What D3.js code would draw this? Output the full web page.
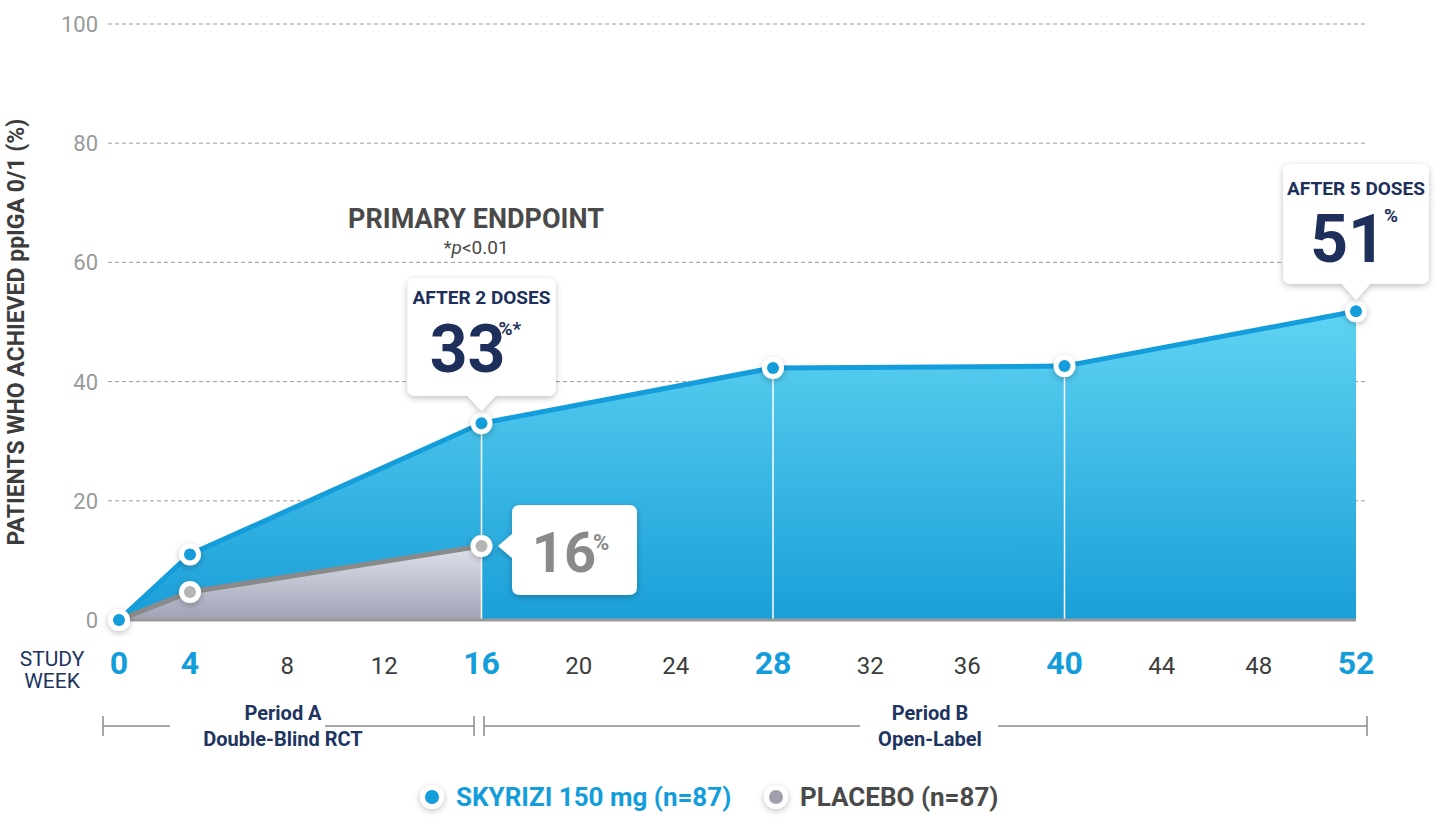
<!DOCTYPE html>
<html><head><meta charset="utf-8">
<script src="https://cdn.jsdelivr.net/npm/d3@7"></script>
<style>body{margin:0;background:#fff}text{font-family:"Liberation Sans Narrow","Roboto",sans-serif}</style>
</head><body><svg id="c" width="1440" height="824"></svg>
<script>
const weeks=[0,4,16,28,40,52];
const skyrizi=[0,11,33,42.3,42.6,51.8];
const placeboWeeks=[0,4,16];
const placebo=[0,4.7,12.4];
const xTicks=[0,4,8,12,16,20,24,28,32,36,40,44,48,52];
const highlightTicks=[0,4,16,28,40,52];
const yTicks=[0,20,40,60,80,100];

const svg=d3.select("#c");
const x=d3.scaleLinear().domain([0,4,52]).range([119,190,1356]);
const y=d3.scaleLinear().domain([0,100]).range([620,24]);
const defs=svg.append("defs");
const g1=defs.append("linearGradient").attr("id","gb").attr("x1",0).attr("y1",0).attr("x2",0).attr("y2",1);
g1.append("stop").attr("offset","0").attr("stop-color","#5fd3f2");
g1.append("stop").attr("offset","1").attr("stop-color","#1a9fd8");
const g2=defs.append("linearGradient").attr("id","gg").attr("x1",0).attr("y1",0).attr("x2",0).attr("y2",1);
g2.append("stop").attr("offset","0").attr("stop-color","#dfe2ec");
g2.append("stop").attr("offset","1").attr("stop-color","#9ea2b4");
const sh=defs.append("filter").attr("id","sh").attr("x","-30%").attr("y","-30%").attr("width","160%").attr("height","160%");
sh.append("feDropShadow").attr("dx",0).attr("dy",2).attr("stdDeviation",3).attr("flood-color","#000").attr("flood-opacity",0.25);

// grid
yTicks.forEach(t=>{
  if(t>0) svg.append("line").attr("x1",108).attr("x2",1368).attr("y1",y(t)).attr("y2",y(t)).attr("stroke","#9a9a9a").attr("stroke-dasharray","4,3");
  svg.append("text").attr("x",98).attr("y",y(t)+8).attr("text-anchor","end").attr("font-size",22).attr("fill","#9a9a9a").text(t);
});
svg.append("text").attr("transform","translate(24,332) rotate(-90)").attr("text-anchor","middle").attr("font-size",23).attr("font-weight","bold").attr("fill","#3c3c3c").text("PATIENTS WHO ACHIEVED ppIGA 0/1 (%)");

const sd=weeks.map((w,i)=>[w,skyrizi[i]]);
const pd=placeboWeeks.map((w,i)=>[w,placebo[i]]);
const area=d3.area().x(d=>x(d[0])).y0(y(0)).y1(d=>y(d[1]));
const line=d3.line().x(d=>x(d[0])).y(d=>y(d[1]));
svg.append("path").datum(sd).attr("d",area).attr("fill","url(#gb)");
svg.append("path").datum(pd).attr("d",area).attr("fill","url(#gg)");
weeks.slice(2,5).forEach((w,i)=>svg.append("line").attr("x1",x(w)).attr("x2",x(w)).attr("y1",y(skyrizi[i+2])).attr("y2",y(0)).attr("stroke","#fff").attr("stroke-width",1.5));
svg.append("line").attr("x1",x(0)).attr("x2",x(52)).attr("y1",y(0)).attr("y2",y(0)).attr("stroke","#999").attr("stroke-width",3);
svg.append("path").datum(sd).attr("d",line).attr("fill","none").attr("stroke","#139ddb").attr("stroke-width",5);
svg.append("path").datum(pd).attr("d",line).attr("fill","none").attr("stroke","#8a8a8a").attr("stroke-width",5);
pd.slice(1).forEach(d=>{
  svg.append("circle").attr("cx",x(d[0])).attr("cy",y(d[1])).attr("r",11).attr("fill","#fff").attr("filter","url(#sh)");
  svg.append("circle").attr("cx",x(d[0])).attr("cy",y(d[1])).attr("r",6).attr("fill","#b5b5b5");
});
sd.forEach(d=>{
  svg.append("circle").attr("cx",x(d[0])).attr("cy",y(d[1])).attr("r",11).attr("fill","#fff").attr("filter","url(#sh)");
  svg.append("circle").attr("cx",x(d[0])).attr("cy",y(d[1])).attr("r",6).attr("fill","#139ddb");
});

// x ticks
svg.append("text").attr("x",52).attr("y",666).attr("text-anchor","middle").attr("font-size",21).attr("fill","#1d3560").text("STUDY");
svg.append("text").attr("x",52).attr("y",688).attr("text-anchor","middle").attr("font-size",21).attr("fill","#1d3560").text("WEEK");
xTicks.forEach(t=>{
  const h=highlightTicks.includes(t);
  svg.append("text").attr("x",x(t)).attr("y",674).attr("text-anchor","middle").attr("font-size",h?32:24).attr("font-weight",h?"bold":"normal").attr("fill",h?"#139ddb":"#3c3c3c").text(t);
});

// periods
const pc="#8a8a8a";
function seg(a,b){svg.append("line").attr("x1",a).attr("x2",b).attr("y1",726).attr("y2",726).attr("stroke",pc).attr("stroke-width",1.5);}
function tick(a){svg.append("line").attr("x1",a).attr("x2",a).attr("y1",716).attr("y2",736).attr("stroke",pc).attr("stroke-width",1.5);}
seg(103,170);seg(325,474);tick(103);tick(474);
seg(484,860);seg(998,1367);tick(484);tick(1367);
[["Period A",283,720],["Double-Blind RCT",283,746],["Period B",930,720],["Open-Label",930,746]].forEach(d=>
  svg.append("text").attr("x",d[1]).attr("y",d[2]).attr("text-anchor","middle").attr("font-size",20).attr("font-weight","bold").attr("fill","#1d3560").text(d[0]));

// endpoint
svg.append("text").attr("x",476).attr("y",228).attr("text-anchor","middle").attr("font-size",27).attr("font-weight","bold").attr("fill","#4a4a4a").text("PRIMARY ENDPOINT");
const pt=svg.append("text").attr("x",476).attr("y",254).attr("text-anchor","middle").attr("font-size",19).attr("fill","#4a4a4a");
pt.append("tspan").text("*");pt.append("tspan").attr("font-style","italic").text("p");pt.append("tspan").text("<0.01");

// callouts
function bubble(cx,top,w,h,tip){
  const l=cx-w/2,r=cx+w/2,b=top+h,rr=8;
  const p=`M${l+rr},${top}H${r-rr}Q${r},${top} ${r},${top+rr}V${b-rr}Q${r},${b} ${r-rr},${b}H${cx+14}L${cx},${b+tip}L${cx-14},${b}H${l+rr}Q${l},${b} ${l},${b-rr}V${top+rr}Q${l},${top} ${l+rr},${top}Z`;
  svg.append("path").attr("d",p).attr("fill","#fff").attr("filter","url(#sh)");
}
bubble(x(16),278,148,118,15);
svg.append("text").attr("x",x(16)).attr("y",304).attr("text-anchor","middle").attr("font-size",19).attr("font-weight","bold").attr("fill","#1d2f5a").text("AFTER 2 DOSES");
svg.append("text").attr("x",x(16)-14).attr("y",372).attr("text-anchor","middle").attr("font-size",66).attr("font-weight","bold").attr("fill","#1d2f5a").text("33");
svg.append("text").attr("x",x(16)+17).attr("y",335).attr("font-size",19).attr("font-weight","bold").attr("fill","#1d2f5a").text("%*");
bubble(x(52),164,146,120,16);
svg.append("text").attr("x",x(52)).attr("y",195).attr("text-anchor","middle").attr("font-size",19).attr("font-weight","bold").attr("fill","#1d2f5a").text("AFTER 5 DOSES");
svg.append("text").attr("x",x(52)-8).attr("y",262).attr("text-anchor","middle").attr("font-size",66).attr("font-weight","bold").attr("fill","#1d2f5a").text("51");
svg.append("text").attr("x",x(52)+28).attr("y",222).attr("font-size",19).attr("font-weight","bold").attr("fill","#1d2f5a").text("%");
(function(){const l=512,t=505,w=125,h=90,tip=14,cy=y(placebo[2]);
 const p=`M${l+8},${t}H${l+w-8}Q${l+w},${t} ${l+w},${t+8}V${t+h-8}Q${l+w},${t+h} ${l+w-8},${t+h}H${l+8}Q${l},${t+h} ${l},${t+h-8}V${cy+12}L${l-tip},${cy}L${l},${cy-12}V${t+8}Q${l},${t} ${l+8},${t}Z`;
 svg.append("path").attr("d",p).attr("fill","#fff").attr("filter","url(#sh)");
 svg.append("text").attr("x",564).attr("y",572).attr("text-anchor","middle").attr("font-size",56).attr("font-weight","bold").attr("fill","#8a8a8a").text("16");
 svg.append("text").attr("x",593).attr("y",550).attr("font-size",22).attr("font-weight","bold").attr("fill","#8a8a8a").text("%");
})();

// legend
[[432,"#139ddb","SKYRIZI 150 mg (n=87)","#139ddb",456],[776,"#a0a0ae","PLACEBO (n=87)","#4a4a4a",800]].forEach(d=>{
  svg.append("circle").attr("cx",d[0]).attr("cy",797).attr("r",12).attr("fill","#fff").attr("filter","url(#sh)");
  svg.append("circle").attr("cx",d[0]).attr("cy",797).attr("r",7).attr("fill",d[1]);
  svg.append("text").attr("x",d[4]).attr("y",806).attr("font-size",26).attr("font-weight","bold").attr("fill",d[3]).text(d[2]);
});
</script></body></html>
